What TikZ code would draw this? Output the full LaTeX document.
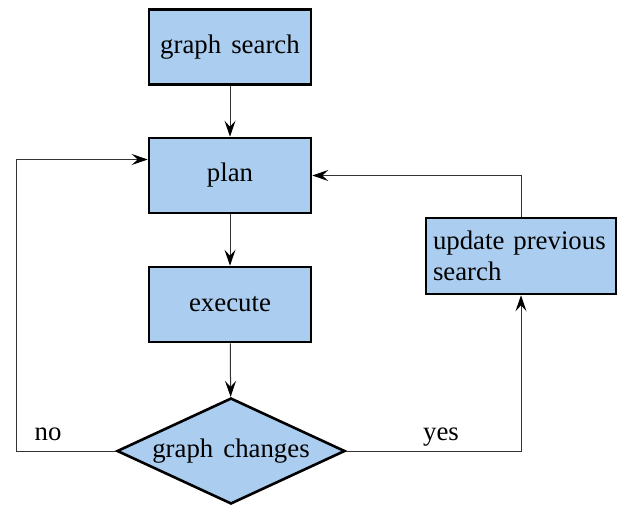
\documentclass[tikz,border=0pt]{standalone}
\usepackage{fontspec}
\setmainfont[WordSpace=1.5]{Liberation Serif}
\usetikzlibrary{arrows.meta,shapes.geometric}
\definecolor{boxblue}{RGB}{171,205,239}
\tikzset{
  txt/.style={font=\fontsize{13.4}{15.5}\selectfont},
  block/.style={txt, draw=black, line width=1.3pt, fill=boxblue, minimum width=81pt, minimum height=37.5pt, inner sep=3pt},
  decision/.style={txt, draw=black, line width=1.3pt, fill=boxblue, diamond, aspect=2.15, inner sep=0pt, minimum width=114pt, minimum height=53pt},
  link/.style={draw=black!80, line width=0.5pt, -{Stealth[length=8pt,width=5.5pt,inset=3pt,color=black]}},
  lbl/.style={txt, anchor=base}
}
\begin{document}
\begin{tikzpicture}[x=0.5pt,y=-0.5pt]
  \useasboundingbox (0,0) rectangle (620,504);
  \node[block] (search) at (230,47) {graph search};
  \node[block] (plan) at (230,175.5) {plan};
  \node[block] (exec) at (230,304.5) {execute};
  \node[block, minimum width=95pt, minimum height=38pt, text width=88pt, align=left] (update) at (521,256) {update previous\\search};
  \node[decision] (chg) at (231,451) {graph changes};

  \coordinate (nl) at (16,451);
  \coordinate (nt) at (16,159.5);
  \coordinate (yr) at (521,451);
  \coordinate (ut) at (521,175.5);

  \draw[link] (search) -- (plan);
  \draw[link] (plan) -- (exec);
  \draw[link] (exec) -- (chg);
  \draw[link] (chg.west) -- (nl) -- (nt) -- (nt -| plan.west);
  \draw[link] (chg.east) -- (yr) -- (update.south);
  \draw[link] (update.north) -- (ut) -- (plan.east);

  \node[lbl] (no) at (48,440) {no};
  \node[lbl] (yes) at (441,440) {yes};
\end{tikzpicture}
\end{document}
